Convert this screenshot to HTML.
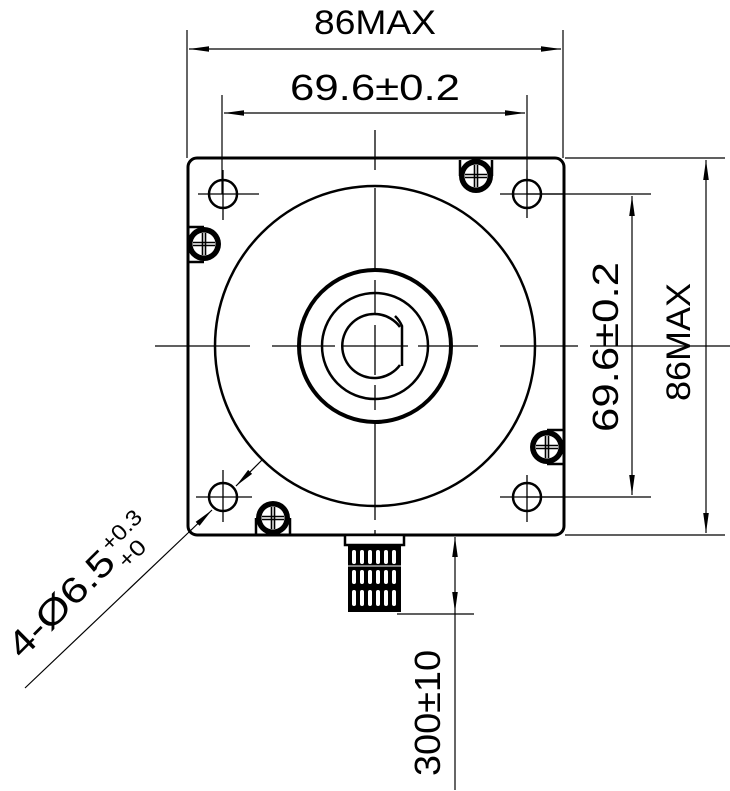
<!DOCTYPE html>
<html><head><meta charset="utf-8"><style>html,body{margin:0;padding:0;background:#fff}svg{display:block}</style></head>
<body>
<svg width="730" height="791" viewBox="0 0 730 791" xmlns="http://www.w3.org/2000/svg">
<defs>
<marker id="a" viewBox="0 0 10 10" refX="10" refY="5" markerWidth="20" markerHeight="7" markerUnits="userSpaceOnUse" orient="auto-start-reverse" preserveAspectRatio="none"><path d="M0,1 L10,5 L0,9 Z" fill="#000"/></marker>
<g id="screw"><circle r="17" fill="#000"/><circle r="11.5" fill="#fff"/><path d="M-11,-1.5H11M-11,1.5H11M-1.5,-11V11M1.5,-11V11" stroke="#000" stroke-width="1.6"/></g>
</defs>
<g fill="none" stroke="#000">
<line x1="187" y1="30" x2="187" y2="158" stroke-width="1.2"/>
<line x1="563" y1="30" x2="563" y2="158" stroke-width="1.2"/>
<line x1="189" y1="49" x2="561" y2="49" stroke-width="1.2" marker-start="url(#a)" marker-end="url(#a)"/>
<line x1="222" y1="95" x2="222" y2="194" stroke-width="1.2"/>
<line x1="527" y1="95" x2="527" y2="194" stroke-width="1.2"/>
<line x1="224" y1="113" x2="525" y2="113" stroke-width="1.2" marker-start="url(#a)" marker-end="url(#a)"/>
<line x1="565" y1="158" x2="725" y2="158" stroke-width="1.2"/>
<line x1="565" y1="535" x2="725" y2="535" stroke-width="1.2"/>
<line x1="706" y1="160" x2="706" y2="533" stroke-width="1.2" marker-start="url(#a)" marker-end="url(#a)"/>
<line x1="527" y1="194" x2="651" y2="194" stroke-width="1.2"/>
<line x1="527" y1="497" x2="651" y2="497" stroke-width="1.2"/>
<line x1="632" y1="196" x2="632" y2="495" stroke-width="1.2" marker-start="url(#a)" marker-end="url(#a)"/>
<rect x="188" y="158" width="376" height="377" rx="9" stroke-width="3"/>
<circle cx="375" cy="346" r="160" stroke-width="2.5"/>
<circle cx="375" cy="346" r="76" stroke-width="4"/>
<circle cx="375" cy="346" r="53" stroke-width="2.5"/>
<path d="M400,327 A32,32 0 1 0 400,365" stroke-width="2.5"/>
<path d="M395,316 A32,32 0 0 1 402,326 V366" stroke-width="2.5"/>
<path d="M375,130V170M375,188V270M375,280V315M375,325V375M375,385V410M375,420V520M375,530V545" stroke-width="1.3"/>
<path d="M155,346H250M272,346H335M343,346H408M418,346H478M500,346H578M590,346H730" stroke-width="1.3"/>
<g stroke-width="2.5">
<circle cx="223" cy="194" r="14"/><circle cx="527" cy="194" r="14"/>
<circle cx="223" cy="497" r="14"/><circle cx="527" cy="497" r="14"/>
</g>
<path d="M198,194H259M223,170V220M500,194H563M527,170V218M196,497H252M223,470V522M500,497H563M527,475V522" stroke-width="1.3"/>
<path d="M460,160V176M492,160V176M188,227H204M188,262H204M563,430H547M563,464H547M256,535V518M290,535V518" stroke-width="2.5"/>
</g>
<use href="#screw" x="476" y="176"/>
<use href="#screw" x="204" y="244"/>
<use href="#screw" x="547" y="447"/>
<use href="#screw" x="273" y="518"/>
<g>
<rect x="345" y="535" width="59" height="10" fill="#fff" stroke="#000" stroke-width="2.5"/>
<rect x="348" y="545" width="53" height="67" fill="#000"/>
<g fill="#fff">
<rect x="352" y="550" width="4" height="14" rx="2"/><rect x="360" y="550" width="4" height="14" rx="2"/><rect x="368" y="550" width="4" height="14" rx="2"/><rect x="376" y="550" width="4" height="14" rx="2"/><rect x="384" y="550" width="4" height="14" rx="2"/><rect x="392" y="550" width="4" height="14" rx="2"/>
<rect x="352" y="570" width="4" height="14" rx="2"/><rect x="360" y="570" width="4" height="14" rx="2"/><rect x="368" y="570" width="4" height="14" rx="2"/><rect x="376" y="570" width="4" height="14" rx="2"/><rect x="384" y="570" width="4" height="14" rx="2"/><rect x="392" y="570" width="4" height="14" rx="2"/>
<rect x="352" y="590" width="4" height="16" rx="2"/><rect x="360" y="590" width="4" height="16" rx="2"/><rect x="368" y="590" width="4" height="16" rx="2"/><rect x="376" y="590" width="4" height="16" rx="2"/><rect x="384" y="590" width="4" height="16" rx="2"/><rect x="392" y="590" width="4" height="16" rx="2"/>
</g>
<line x1="346" y1="566" x2="402" y2="566" stroke="#fff" stroke-width="1"/>
</g>
<g stroke="#000" fill="none">
<line x1="397" y1="614" x2="474" y2="614" stroke-width="1.2"/>
<line x1="455" y1="575" x2="455" y2="537" stroke-width="1.2" marker-end="url(#a)"/>
<line x1="455" y1="575" x2="455" y2="612" stroke-width="1.2" marker-end="url(#a)"/>
<line x1="455" y1="612" x2="455" y2="790" stroke-width="1.2"/>
<line x1="25" y1="688" x2="188" y2="533" stroke-width="1.2"/>
<line x1="188" y1="533" x2="212" y2="510" stroke-width="1.2" marker-end="url(#a)"/>
<line x1="262" y1="460" x2="236" y2="486" stroke-width="1.2" marker-end="url(#a)"/>
</g>
<g font-family="Liberation Sans, sans-serif" font-weight="normal" fill="#000">
<text x="375" y="34" font-size="34" text-anchor="middle" textLength="122" lengthAdjust="spacingAndGlyphs">86MAX</text>
<text x="375" y="100" font-size="36" text-anchor="middle" textLength="170" lengthAdjust="spacingAndGlyphs">69.6±0.2</text>
<text transform="translate(690,342) rotate(-90)" font-size="34" text-anchor="middle" textLength="118" lengthAdjust="spacingAndGlyphs">86MAX</text>
<text transform="translate(618,347) rotate(-90)" font-size="36" text-anchor="middle" textLength="170" lengthAdjust="spacingAndGlyphs">69.6±0.2</text>
<text transform="translate(440,713) rotate(-90)" font-size="36" text-anchor="middle" textLength="126" lengthAdjust="spacingAndGlyphs">300±10</text>
<g transform="translate(22,660) rotate(-45)">
<text x="0" y="0" font-size="36" textLength="135" lengthAdjust="spacingAndGlyphs">4-Ø6.5</text>
<text x="138" y="-14" font-size="22" textLength="48" lengthAdjust="spacingAndGlyphs">+0.3</text>
<text x="138" y="10" font-size="22" textLength="30" lengthAdjust="spacingAndGlyphs">+0</text>
</g>
</g>
</svg>
</body></html>
